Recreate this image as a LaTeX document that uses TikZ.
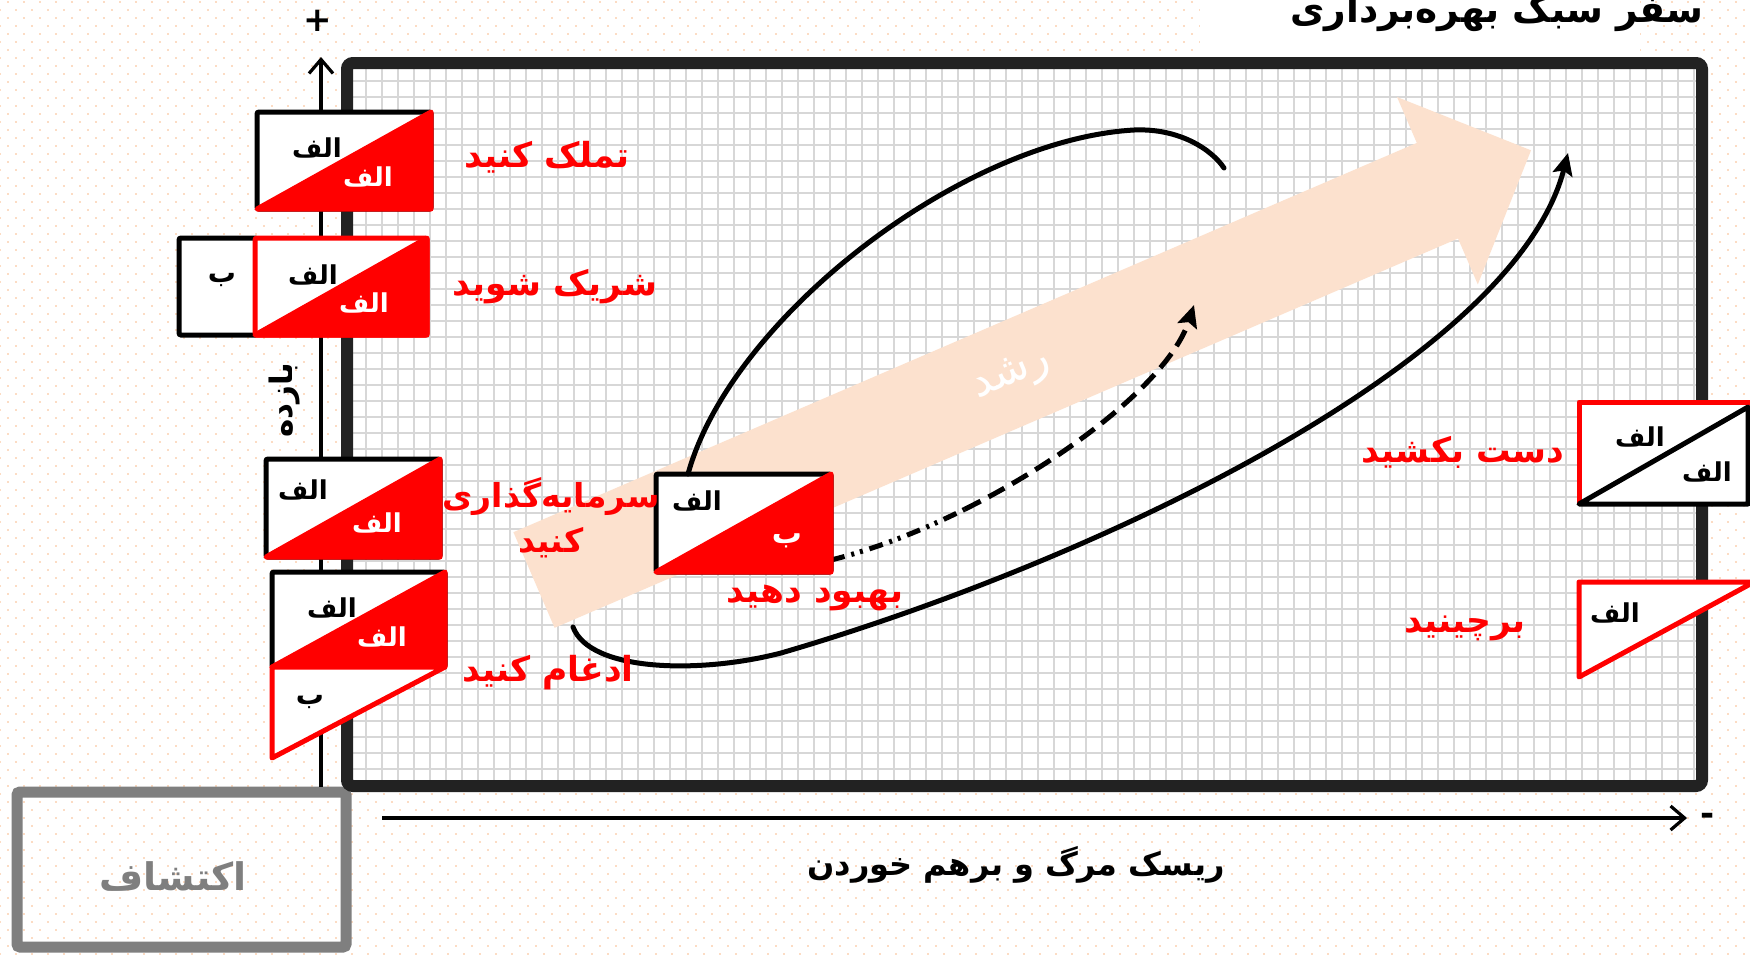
\documentclass[tikz,border=0pt]{standalone}
\usepackage{fontspec}
\usetikzlibrary{arrows.meta,patterns.meta,calc}
\TeXXeTstate=1
\newfontfamily\fa[Script=Arabic]{DejaVu Sans}
\definecolor{peach}{RGB}{252,225,206}
\definecolor{dotc}{RGB}{252,220,196}
\definecolor{gridc}{RGB}{215,215,215}
\definecolor{framec}{RGB}{34,34,34}
\definecolor{greyc}{RGB}{127,127,127}
\definecolor{redc}{RGB}{255,0,0}
\tikzset{
  fatext/.style={font=\fa\bfseries\fontsize{#1}{#1}\selectfont, inner sep=0pt, outer sep=0pt},
  redlbl/.style={fatext=34.5, text=redc, align=center},
  boxlbl/.style={fatext=26, text=black},
  boxlblw/.style={fatext=26, text=white},
  diagbox/.style={draw=black, fill=white, line width=5pt, inner sep=0pt, outer sep=0pt, rounded corners=2pt},
  redtri/.style={fill=redc, draw=redc, line width=5pt, line join=round},
  curve/.style={line width=5pt, line cap=round},
  dcurve/.style={line width=5pt, line cap=butt},
  tipst/.style={-{Stealth[length=22pt,width=20pt,inset=4pt]}},
}
\begin{document}
\begin{tikzpicture}[x=1pt,y=-1pt]
\useasboundingbox (0,0) rectangle (1750,954);
\clip (0,0) rectangle (1750,954);
% background
\fill[white] (0,0) rectangle (1750,954);
\fill[pattern={Dots[radius=1.15pt,distance=11.314pt,angle=45]}, pattern color=dotc] (0,0) rectangle (1750,954);
% title
\fill[white] (1200,0) rectangle (1640,56);
\node[fatext=37.5, anchor=base] (title) at (1497,22) {\beginR سفر سبک بهره‌برداری\endR};
% exploration box
\node[draw=greyc, line width=11pt, minimum width=329pt, minimum height=155pt, inner sep=0pt, outer sep=0pt, rounded corners=3pt] (explbox) at (181.5,869.5) {};
\node[fatext=38, text=greyc] (explore) at (173,877) {\beginR اکتشاف\endR};
% grid area
\fill[white] (353,69) rectangle (1696,780);
\foreach \k in {0,...,83} \draw[gridc, line width=2pt] ({366+16*\k},69) -- ({366+16*\k},780);
\foreach \k in {0,...,43} \draw[gridc, line width=2pt] (353,{80.7+16*\k}) -- (1696,{80.7+16*\k});
% growth arrow
\fill[peach] (513.4,532.2) -- (1416.8,142.9) -- (1397,97) -- (1531,150.3) -- (1477.8,284.4) -- (1458,238.5) -- (554.6,627.8) -- cycle;
\node[font=\fa\fontsize{44}{44}\selectfont, text=white, rotate=23, inner sep=0pt] (grow) at (1012,376) {\beginR رشد\endR};
% frame
\node[draw=framec, line width=12pt, minimum width=1355pt, minimum height=723pt, inner sep=0pt, outer sep=0pt, rounded corners=6pt] (frame) at (1024.5,424.5) {};
% axes
\coordinate (yax0) at (321,787);
\coordinate (yax1) at (321,57);
\draw[line width=3.2pt, -{Straight Barb[length=14pt,width=24pt]}] (yax0) -- (yax1);
\node[fatext=34] (plus) at (318,21) {+};
\coordinate (xax0) at (382,818);
\coordinate (xax1) at (1687,818);
\draw[line width=3.2pt, -{Straight Barb[length=14pt,width=24pt]}] (xax0) -- (xax1);
\node[fatext=34] (minus) at (1708,819) {-};
\node[fatext=31, rotate=90] (ylab) at (285,400) {\beginR بازده\endR};
\node[fatext=32] (xlab) at (1016,865) {\beginR ریسک مرگ و برهم خوردن\endR};
% center box and curves
\node[diagbox, minimum width=175pt, minimum height=98pt] (b5) at (743.5,523) {};
\coordinate (c1s) at ($(b5.north west)!0.183!(b5.north east)$);
\coordinate (c1e) at (1224,168);
\draw[curve] (c1s) .. controls (730,320) and (960,140) .. (1134,130) .. controls (1180,128) and (1212,150) .. (c1e);
\coordinate (c2s) at ($(b5.south east)+(0,-12)$);
\coordinate (c2m) at (964.6,509.3);
\coordinate (c2e) at (1194,305);
\draw[dcurve, dash pattern=on 14pt off 7pt on 3pt off 6pt on 3pt off 7pt] (c2s) .. controls (873.4,549.5) and (919.5,531.8) .. (c2m);
\draw[dcurve, dash pattern=on 18pt off 9pt, tipst] (c2m) .. controls (1069.9,456.9) and (1170.2,378.5) .. (c2e);
\coordinate (c3s) at (573,627);
\coordinate (c3e) at (1568,153);
\draw[curve, tipst] (c3s) .. controls (590,672) and (700,674) .. (781,653) .. controls (1100,560) and (1515,360) .. (c3e);
\fill[redc, draw=redc, line width=5pt, line join=round] (b5.south west) -- (b5.north east) -- (b5.south east) -- cycle;
\node[boxlbl] (t5a) at (697,501) {\beginR الف\endR};
\node[fatext=30, text=white] (t5b) at (787,541) {\beginR ب\endR};
% box 1
\node[diagbox, minimum width=174pt, minimum height=97pt] (b1) at (344,160.5) {};
\fill[redtri] (b1.south west) -- (b1.north east) -- (b1.south east) -- cycle;
\node[boxlbl] (t1a) at (317,148) {\beginR الف\endR};
\node[boxlblw] (t1b) at (368,177) {\beginR الف\endR};
% box 2
\node[diagbox, minimum width=78pt, minimum height=97pt] (b2b) at (218,286.5) {};
\node[fatext=28] (t2c) at (222,280) {\beginR ب\endR};
\node[diagbox, draw=redc, minimum width=172pt, minimum height=97pt] (b2) at (341,286.5) {};
\fill[redtri] (b2.south west) -- (b2.north east) -- (b2.south east) -- cycle;
\node[boxlbl] (t2a) at (313,275) {\beginR الف\endR};
\node[boxlblw] (t2b) at (364,303) {\beginR الف\endR};
% box 3
\node[diagbox, minimum width=174pt, minimum height=98pt] (b3) at (353,508) {};
\fill[redtri] (b3.south west) -- (b3.north east) -- (b3.south east) -- cycle;
\node[boxlbl] (t3a) at (303,490) {\beginR الف\endR};
\node[boxlblw] (t3b) at (377,523) {\beginR الف\endR};
% box 4
\node[diagbox, minimum width=173pt, minimum height=95pt] (b4) at (358.5,619.5) {};
\fill[redtri] (b4.south west) -- (b4.north east) -- (b4.south east) -- cycle;
\draw[draw=redc, fill=white, line width=5pt, line join=round] (b4.south west) -- (b4.south east) -- ($(b4.south west)+(0,91)$) -- cycle;
\node[boxlbl] (t4a) at (332,608) {\beginR الف\endR};
\node[boxlblw] (t4b) at (382,637) {\beginR الف\endR};
\node[fatext=28] (t4c) at (310,702) {\beginR ب\endR};
% box 6
\node[fill=white, minimum width=169pt, minimum height=102pt, inner sep=0pt, outer sep=0pt] (b6) at (1663.5,453) {};
\draw[redc, line width=5pt, line join=round] (b6.south west) -- (b6.north west) -- ($(b6.north east)+(5,0)$);
\draw[black, line width=5pt, line join=round, line cap=round] (b6.south west) -- ($(b6.north east)+(0,5)$) -- (b6.south east) -- cycle;
\node[boxlbl] (t6a) at (1640,437) {\beginR الف\endR};
\node[boxlbl] (t6b) at (1707,472) {\beginR الف\endR};
% box 7
\coordinate (b7) at (1579,582);
\draw[draw=redc, fill=white, line width=5pt, line join=round] (b7) -- ++(175,0) -- ++(-175,95) -- cycle;
\node[boxlbl] (t7a) at (1615,613) {\beginR الف\endR};
% red labels
\node[redlbl] (l1) at (547,157) {\beginR تملک کنید\endR};
\node[redlbl] (l2) at (555,287) {\beginR شریک شوید\endR};
\node[redlbl, font=\fa\bfseries\fontsize{33}{45}\selectfont] (l3) at (551,518) {\beginR سرمایه‌گذاری\endR\\\beginR کنید\endR};
\node[redlbl] (l4) at (815,598) {\beginR بهبود دهید\endR};
\node[redlbl] (l5) at (548,673) {\beginR ادغام کنید\endR};
\node[redlbl] (l6) at (1463,452) {\beginR دست بکشید\endR};
\node[redlbl] (l7) at (1465,628) {\beginR برچینید\endR};
\end{tikzpicture}
\end{document}
